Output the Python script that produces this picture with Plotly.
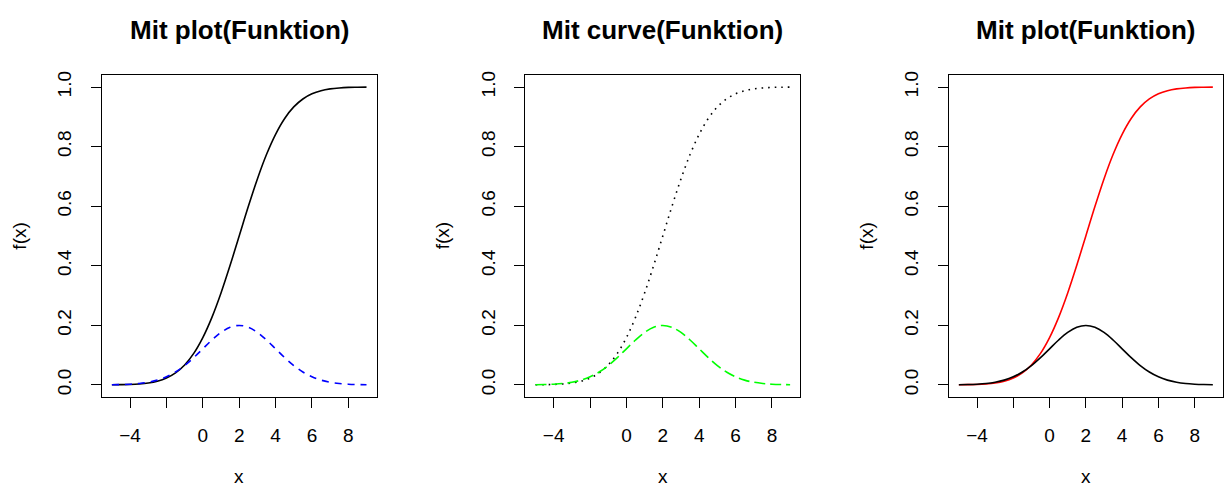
import plotly.graph_objects as go

# values
x_vals = [-5, -4.5, -4, -3.5, -3, -2.5, -2, -1.5, -1, -0.5, 0, 0.5, 1, 1.5, 2,
          2.5, 3, 3.5, 4, 4.5, 5, 5.5, 6, 6.5, 7, 7.5, 8, 8.5, 9]
density = [0.0004, 0.0010, 0.0022, 0.0045, 0.0088, 0.0159, 0.0270, 0.0431, 0.0648,
           0.0913, 0.1210, 0.1506, 0.1760, 0.1933, 0.1995, 0.1933, 0.1760, 0.1506,
           0.1210, 0.0913, 0.0648, 0.0431, 0.0270, 0.0159, 0.0088, 0.0045, 0.0022,
           0.0010, 0.0004]
cumulative = [0.0002, 0.0006, 0.0013, 0.0030, 0.0062, 0.0122, 0.0228, 0.0401, 0.0668,
              0.1056, 0.1587, 0.2266, 0.3085, 0.4013, 0.5000, 0.5987, 0.6915, 0.7734,
              0.8413, 0.8944, 0.9332, 0.9599, 0.9772, 0.9878, 0.9938, 0.9970, 0.9987,
              0.9994, 0.9998]
titles = ["Mit plot(Funktion)", "Mit curve(Funktion)", "Mit plot(Funktion)"]
x_ticks = [-4, -2, 0, 2, 4, 6, 8]
x_tick_text = ["\u22124", "", "0", "2", "4", "6", "8"]
y_ticks = [0.0, 0.2, 0.4, 0.6, 0.8, 1.0]
y_tick_text = ["0.0", "0.2", "0.4", "0.6", "0.8", "1.0"]

FONT = "Liberation Sans, Arial, sans-serif"
W, H = 1224, 489
boxes = [(101.7, 376.7), (525.3, 800.3), (948.7, 1223.0)]
top, bottom = 71.7, 396.0

fig = go.Figure()

panel_traces = [
    [(cumulative, dict(color="black", width=1.6)),
     (density, dict(color="#0000FF", width=1.6, dash="7px,6px"))],
    [(cumulative, dict(color="black", width=1.6, dash="1.6px,5px")),
     (density, dict(color="#00FF00", width=1.6, dash="11px,5px"))],
    [(cumulative, dict(color="#FF0000", width=1.6)),
     (density, dict(color="black", width=1.6))],
]

for i, traces in enumerate(panel_traces):
    xa = "x" if i == 0 else f"x{i+1}"
    ya = "y" if i == 0 else f"y{i+1}"
    for yv, ln in traces:
        fig.add_trace(go.Scatter(x=x_vals, y=yv, mode="lines", line=dict(shape="spline", **ln),
                                 xaxis=xa, yaxis=ya, showlegend=False, hoverinfo="skip"))
    l, r = boxes[i]
    axis_common = dict(showline=True, mirror=True, linecolor="black", linewidth=1.3,
                       showgrid=False, zeroline=False, ticks="outside", ticklen=10,
                       tickwidth=1.3, tickcolor="black",
                       tickfont=dict(family=FONT, size=19, color="black"))
    fig.update_layout(**{
        ("xaxis" if i == 0 else f"xaxis{i+1}"): dict(
            domain=[l / W, r / W], range=[-5.56, 9.56], anchor=ya,
            tickmode="array", tickvals=x_ticks, ticktext=x_tick_text,
            ticklabelstandoff=11, **axis_common),
        ("yaxis" if i == 0 else f"yaxis{i+1}"): dict(
            domain=[1 - bottom / H, 1 - top / H], range=[-0.04, 1.04], anchor=xa,
            tickmode="array", tickvals=y_ticks, ticktext=y_tick_text,
            tickangle=-90, ticklabelstandoff=12, **axis_common),
    })
    xd = f"{xa} domain"
    yd = f"{ya} domain"
    fig.add_annotation(text=f"<b>{titles[i]}</b>", xref=xd, yref=yd, x=0.5, y=1,
                       yshift=45, showarrow=False, yanchor="middle",
                       font=dict(family=FONT, size=26, color="black"))
    fig.add_annotation(text="x", xref=xd, yref=yd, x=0.5, y=0, yshift=-80,
                       showarrow=False, yanchor="middle", borderpad=0,
                       font=dict(family=FONT, size=19, color="black"))
    fig.add_annotation(text="f(x)", xref=xd, yref=yd, x=0, y=0.5, xshift=-82,
                       showarrow=False, xanchor="center", textangle=-90,
                       font=dict(family=FONT, size=19, color="black"))

fig.update_layout(width=W, height=H, margin=dict(l=0, r=0, t=0, b=0),
                  paper_bgcolor="white", plot_bgcolor="white",
                  font=dict(family=FONT, color="black"))
fig.write_html("out.html", config={"displayModeBar": False},
               post_script="document.body.style.margin='0';document.body.style.overflow='hidden';")
